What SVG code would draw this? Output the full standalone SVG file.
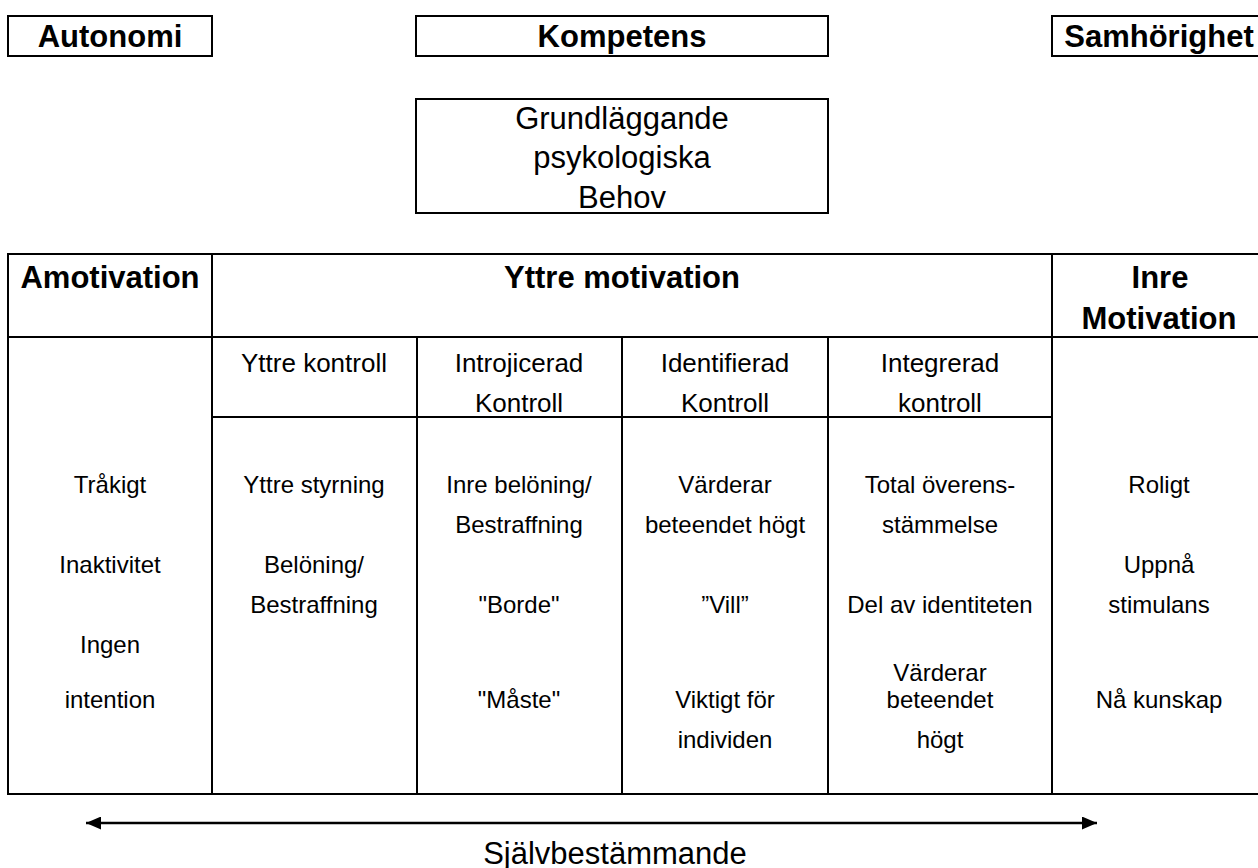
<svg xmlns="http://www.w3.org/2000/svg" width="1258" height="868" viewBox="0 0 1258 868">
<style>
.box{fill:#fff;stroke:#000;stroke-width:2}
.ln{stroke:#000;stroke-width:2;fill:none}
text{font-family:"Liberation Sans",Arial,sans-serif;fill:#000;text-anchor:middle}
.h{font-weight:bold;font-size:31px}
.big{font-size:31px}
.sub{font-size:26px}
.b{font-size:24px}
</style>
<defs>
<marker id="ah" viewBox="0 0 15 13" refX="15" refY="6.5" markerWidth="15" markerHeight="13" markerUnits="userSpaceOnUse" orient="auto-start-reverse">
<path d="M0,0 L15,6.5 L0,13 Z" fill="#000"/>
</marker>
</defs>
<rect width="1258" height="868" fill="#fff"/>

<g id="autonomi"><rect class="box" x="8" y="16" width="204" height="40"/><text class="h" x="110" y="47">Autonomi</text></g>
<g id="kompetens"><rect class="box" x="416" y="16" width="412" height="40"/><text class="h" x="622" y="47">Kompetens</text></g>
<g id="samhorighet"><rect class="box" x="1052" y="16" width="230" height="40"/><text class="h" x="1159" y="47">Samhörighet</text></g>
<g id="behov"><rect class="box" x="416" y="99" width="412" height="114"/>
<text class="big" x="622" y="129">Grundläggande</text>
<text class="big" x="622" y="168">psykologiska</text>
<text class="big" x="622" y="208">Behov</text></g>

<g id="table">
<rect class="box" x="8" y="254" width="1280" height="540"/>
<line class="ln" x1="8" y1="337" x2="1258" y2="337"/>
<line class="ln" x1="212" y1="254" x2="212" y2="794"/>
<line class="ln" x1="1052" y1="254" x2="1052" y2="794"/>
<line class="ln" x1="212" y1="417" x2="1052" y2="417"/>
<line class="ln" x1="417" y1="337" x2="417" y2="794"/>
<line class="ln" x1="622" y1="337" x2="622" y2="794"/>
<line class="ln" x1="828" y1="337" x2="828" y2="794"/>
</g>

<g id="amotivation">
<text class="h" x="110" y="288">Amotivation</text>
<text class="b" x="110" y="493">Tråkigt</text>
<text class="b" x="110" y="573">Inaktivitet</text>
<text class="b" x="110" y="653">Ingen</text>
<text class="b" x="110" y="708">intention</text>
</g>
<g id="yttre-motivation"><text class="h" x="622" y="288">Yttre motivation</text></g>
<g id="inre-motivation">
<text class="h" x="1160" y="288">Inre</text>
<text class="h" x="1159" y="329">Motivation</text>
<text class="b" x="1159" y="493">Roligt</text>
<text class="b" x="1159" y="573">Uppnå</text>
<text class="b" x="1159" y="613">stimulans</text>
<text class="b" x="1159" y="708">Nå kunskap</text>
</g>
<g id="yttre-kontroll">
<text class="sub" x="314" y="372">Yttre kontroll</text>
<text class="b" x="314" y="493">Yttre styrning</text>
<text class="b" x="314" y="573">Belöning/</text>
<text class="b" x="314" y="613">Bestraffning</text>
</g>
<g id="introjicerad">
<text class="sub" x="519" y="372">Introjicerad</text>
<text class="sub" x="519" y="412">Kontroll</text>
<text class="b" x="519" y="493">Inre belöning/</text>
<text class="b" x="519" y="533">Bestraffning</text>
<text class="b" x="519" y="613">"Borde"</text>
<text class="b" x="519" y="708">"Måste"</text>
</g>
<g id="identifierad">
<text class="sub" x="725" y="372">Identifierad</text>
<text class="sub" x="725" y="412">Kontroll</text>
<text class="b" x="725" y="493">Värderar</text>
<text class="b" x="725" y="533">beteendet högt</text>
<text class="b" x="725" y="613">”Vill”</text>
<text class="b" x="725" y="708">Viktigt för</text>
<text class="b" x="725" y="748">individen</text>
</g>
<g id="integrerad">
<text class="sub" x="940" y="372">Integrerad</text>
<text class="sub" x="940" y="412">kontroll</text>
<text class="b" x="940" y="493">Total överens-</text>
<text class="b" x="940" y="533">stämmelse</text>
<text class="b" x="940" y="613">Del av identiteten</text>
<text class="b" x="940" y="681">Värderar</text>
<text class="b" x="940" y="708">beteendet</text>
<text class="b" x="940" y="748">högt</text>
</g>

<g id="connectors">
<line x1="86" y1="823" x2="1097" y2="823" stroke="#000" stroke-width="2.5" marker-start="url(#ah)" marker-end="url(#ah)"/>
</g>
<g id="sjalvbestammande"><text class="big" x="615" y="864">Självbestämmande</text></g>
</svg>
